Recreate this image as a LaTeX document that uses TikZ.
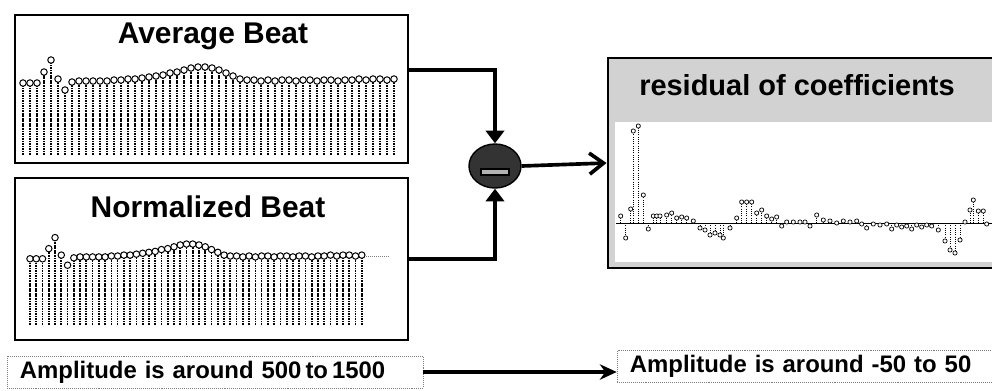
\documentclass[tikz,border=0pt]{standalone}
\usepackage{fontspec}
\setmainfont{Liberation Sans}
\usetikzlibrary{arrows.meta,shapes.geometric}

\begin{document}
\begin{tikzpicture}[x=0.025cm,y=-0.025cm,
	panel/.style={draw,line width=1.2pt,minimum width=9.825cm,inner sep=0pt},
	heading/.style={anchor=base,font=\fontsize{21.3pt}{25pt}\selectfont\bfseries},
	note/.style={draw=gray,densely dotted,inner xsep=0.325cm,align=left,minimum height=0.8cm,font=\fontsize{17pt}{20pt}\selectfont\bfseries},
	stemline/.style={dash pattern=on 1.2pt off 0.6pt,line width=1.2pt},
	dot/.style={draw,fill=white,line width=0.7pt},
	feed/.style={line width=2.6pt,-{Triangle[width=13pt,length=9pt]}}]
\useasboundingbox (0,0) rectangle (992,390);

% input beats
\node[panel,minimum height=3.7cm] (avg) at (211.5,89) {};
\node[panel,minimum height=4.05cm] (norm) at (211.5,259) {};
\node[heading] (avgtitle) at (213,43) {Average Beat};
\node[heading] (normtitle) at (208,217) {Normalized Beat};
\foreach \h [count=\i from 0] in {72,72,72,83,95,76,65,73,74,74,74,74,74,75,75,76,76,77,78,79,
	80,82,83,85,87,88,88,87,85,82,79,76,75,75,74,75,74,75,75,74,
	75,75,74,75,75,74,75,75,76,75,76,76,75,76}{
	\draw[stemline] (23+7*\i,155) -- (23+7*\i,155-\h);
	\draw[dot] (23+7*\i,155-\h) circle (2.3pt);
	\draw[stemline] (30+6.26*\i,325) -- (30+6.26*\i,325-0.92*\h);
	\draw[dot] (30+6.26*\i,325-0.92*\h) circle (2.3pt);
}
\draw[densely dotted,gray] (366,256) -- (388,256);

% residual
\node[draw,line width=2pt,fill=gray!35,minimum width=9.7cm,minimum height=5.25cm] (res) at (802,163) {};
\fill[white] (615,122) rectangle (996,262);
\node[heading,font=\fontsize{20.6pt}{24pt}\selectfont\bfseries] (restitle) at (797,95) {residual of coefficients};
\draw[line width=0.5pt] (616,223) -- (992,223);
\foreach \x/\h in {620.7/7,625.7/-15,630.7/14,633.3/92,638.3/97,643.3/28,648.3/-6,653.3/7,656.7/7,660/7,
	666.7/8,671.7/10,676.7/5,681.7/6,686.7/5,693.3/2,700/-5,705/-7,710/-12,715/-10,
	720/-12,723.3/-15,730/-5,736.7/5,741.7/21,746.7/21,751.7/21,756.7/10,761.7/13,766.7/7,
	771.7/4,776.7/6,781.7/-3,786.7/1,793.3/1,800/1,805/1,810/-3,816.7/8,823.3/3,
	830/2,836.7/0,843.3/2,850/1,856.7/2,861.7/-1,866.7/-5,873.3/-1,880/-2,886.7/-1,
	891.7/-6,896.7/-2,901.7/-4,906.7/-3,911.7/-6,916.7/-2,921.7/-4,926.7/-2,931.7/-3,938.3/-7,
	945/-18,950/-27,955/-30,960/-17,965/1,970/13,973.3/23,978.3/12,983.3/12,986.7/-1}{
	\draw[densely dotted,line width=0.6pt] (\x,223) -- (\x,{223-(\h)});
	\draw[dot,line width=0.5pt] (\x,{223-(\h)}) circle (1.5pt);
}

% subtraction
\node[ellipse,draw,line width=1pt,fill=black!80,minimum width=1.3cm,minimum height=1.1cm] (sub) at (495,166) {};
\draw[line width=0.8pt,fill=gray!60] (481,169) rectangle (509,175);
\draw[feed] ([yshift=0.475cm]avg.east) -| (sub.north);
\draw[feed] (norm.east) -| (sub.south);
\draw[line width=2.6pt,-{Straight Barb[length=10pt,width=15pt]}] (sub.east) -- (res.west);

% amplitude notes
\node[note,text width=9.75cm] (ampin) at (215,372) {Amplitude is around 500\,to\,1500};
\node[note,text width=9.1cm] (ampout) at (812,366.5) {Amplitude is around -50 to 50};
\draw[line width=2.6pt,-{Stealth[length=12pt,width=11pt]}] (ampin.east) -- (ampin.east -| ampout.west);
\end{tikzpicture}
\end{document}
